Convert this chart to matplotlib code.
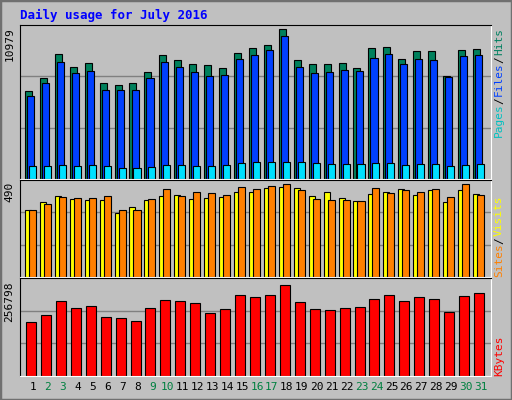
import matplotlib
matplotlib.use('Agg')
import matplotlib.pyplot as plt
from matplotlib.patches import Rectangle

days = list(range(1, 32))
weekend = [2, 3, 9, 10, 16, 17, 23, 24, 30, 31]
hits = [6458, 7402, 9116, 8222, 8520, 7030, 6881, 7030, 7849, 9042, 8744, 8446, 8371, 8148, 9191, 9563,
        9787, 10979, 8744, 8446, 8446, 8520, 8148, 9563, 9638, 8818, 9340, 9340, 7551, 9414, 9489]
files = [6061, 7030, 8595, 7749, 7898, 6533, 6533, 6533, 7402, 8595, 8222, 7849, 7551, 7625, 8818, 9042,
         9414, 10458, 8222, 7749, 7823, 7973, 7898, 8893, 9116, 8446, 8818, 8744, 7452, 8967, 9042]
pages = [919, 919, 994, 919, 994, 919, 770, 770, 844, 994, 994, 919, 919, 994, 1143, 1217,
         1217, 1217, 1217, 1143, 1068, 1068, 1068, 1143, 1143, 994, 1068, 1068, 919, 994, 1068]
sites = [353, 395, 426, 410, 405, 405, 336, 368, 405, 426, 432, 410, 416, 421, 448, 448,
         469, 474, 469, 426, 448, 416, 400, 437, 448, 464, 432, 458, 395, 458, 437]
visits = [353, 384, 421, 416, 416, 426, 353, 353, 410, 464, 426, 448, 442, 432, 474, 464,
          480, 490, 458, 410, 405, 405, 400, 469, 442, 458, 448, 464, 421, 490, 432]
kbytes = [152764, 172445, 211808, 192127, 197750, 166822, 164010, 155575, 192127, 214620, 211808, 206185,
          178068, 189315, 228679, 223056, 228679, 256798, 209000, 189315, 186504, 192127, 194938, 217432,
          228679, 211808, 223056, 217432, 180880, 225867, 234302]

W, H = 512, 400
fig = plt.figure(figsize=(W / 100, H / 100), dpi=100)
fig.patch.set_facecolor('#C0C0C0')
fig.patches.append(Rectangle((0, 0), 1, 1, transform=fig.transFigure, fill=False,
                             edgecolor='#707070', linewidth=2.5))

def px_axes(x0, y0, x1, y1):
    return fig.add_axes([x0 / W, 1 - y1 / H, (x1 - x0) / W, (y1 - y0) / H])

mono = 'DejaVu Sans Mono'

def style(ax, top_frac, vmax):
    ax.set_facecolor('#C0C0C0')
    ax.set_xlim(0.13, 31.67)
    ax.set_ylim(0, vmax / top_frac)
    for f in (1 / 3, 2 / 3):
        ax.axhline(vmax / top_frac * f, color='#808080', lw=1, zorder=0)
    ax.set_xticks([])
    ax.set_yticks([])
    ax.spines['top'].set_color('black')
    ax.spines['left'].set_color('black')
    ax.spines['bottom'].set_color('white')
    ax.spines['right'].set_color('white')
    ax.text(-0.012, 1 - (1 - top_frac) / 2, str(vmax), transform=ax.transAxes, rotation=90,
            ha='right', va='top', fontsize=8, family=mono)

kw = dict(align='edge', edgecolor='black', linewidth=0.8)

ax1 = px_axes(20, 25, 491, 179)
style(ax1, 0.974, max(hits))
ax1.bar([d - 0.54 for d in days], hits, 0.47, color='#00805C', **kw)
ax1.bar([d - 0.40 for d in days], files, 0.47, color='#0040FF', **kw)
ax1.bar([d - 0.27 for d in days], pages, 0.47, color='#00E0FF', **kw)

ax2 = px_axes(20, 180, 491, 277)
style(ax2, 0.96, max(visits))
ax2.bar([d - 0.54 for d in days], sites, 0.40, color='#FFFF00', **kw)
ax2.bar([d - 0.27 for d in days], visits, 0.47, color='#FF8000', **kw)

ax3 = px_axes(20, 278, 491, 376)
style(ax3, 0.93, max(kbytes))
ax3.bar([d - 0.47 for d in days], kbytes, 0.67, color='#FF0000', **kw)

for d in days:
    ax3.text(d, -0.06, str(d), transform=ax3.get_xaxis_transform(), ha='center', va='top',
             fontsize=8, family=mono, color='#008040' if d in weekend else 'black')

fig.text(20 / W, 1 - 15 / H, 'Daily usage for July 2016', color='#0000FF', fontsize=9,
         family=mono, fontweight='bold', va='center', ha='left')

def side(parts, y_bottom):
    y = y_bottom
    for s, c in parts:
        fig.text(499 / W, 1 - y / H, s, color=c, rotation=90, fontsize=8, family=mono,
                 ha='center', va='bottom')
        y -= len(s) * 6.2 + 2

side([('Pages', '#00C0C0'), ('/', 'black'), ('Files', '#0040FF'), ('/', 'black'), ('Hits', '#008060')], 137)
side([('Sites', '#FF8000'), ('/', 'black'), ('Visits', '#FFFF00')], 277)
side([('KBytes', '#FF0000')], 376)

fig.savefig('out.png', dpi=100, facecolor=fig.get_facecolor())
